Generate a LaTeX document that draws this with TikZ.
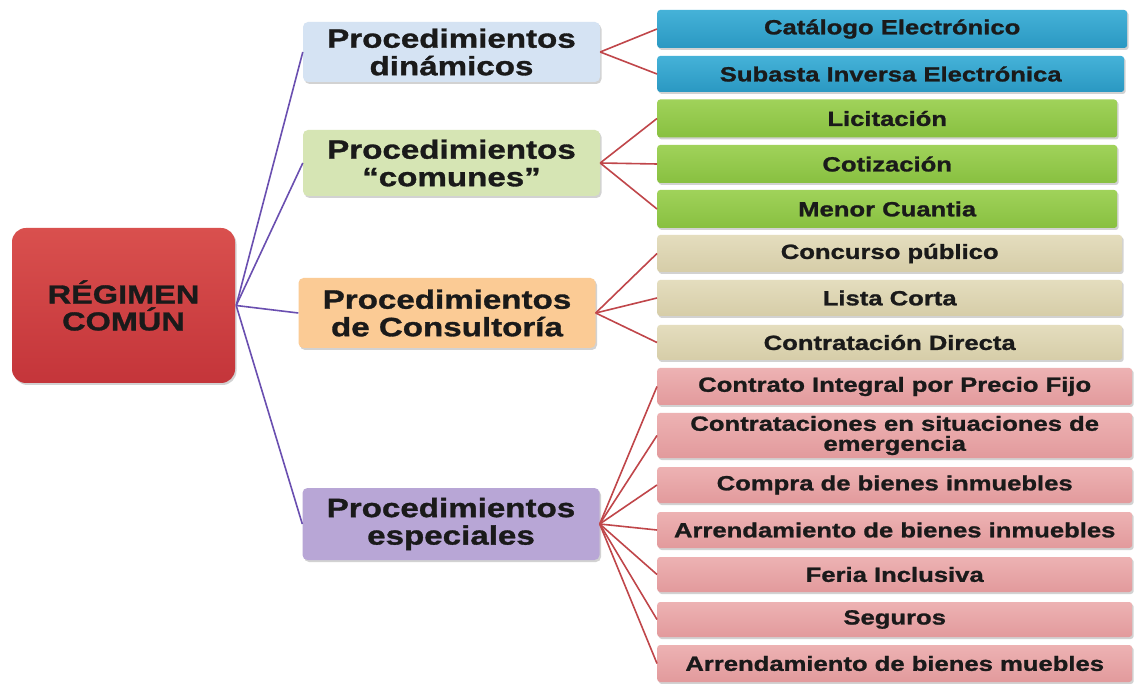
\documentclass[tikz,border=0pt]{standalone}
\usepackage{fontspec}
\setmainfont{Liberation Sans}[FakeStretch=1.25,BoldFeatures={FakeBold=1.2}]
\usetikzlibrary{shadows}
\definecolor{rootc}{HTML}{C4353A}
\definecolor{rootl}{HTML}{D9504E}
\definecolor{dinc}{HTML}{D5E3F3}
\definecolor{comc}{HTML}{D6E5B4}
\definecolor{conc}{HTML}{FBCB95}
\definecolor{espc}{HTML}{B8A6D6}
\definecolor{bluec}{HTML}{2A98C2}
\definecolor{bluel}{HTML}{45B2D8}
\definecolor{greenc}{HTML}{88C040}
\definecolor{greenl}{HTML}{A0D25A}
\definecolor{khakic}{HTML}{D6CDA8}
\definecolor{khakil}{HTML}{E4DDBE}
\definecolor{pinkc}{HTML}{E29A9C}
\definecolor{pinkl}{HTML}{EDB2B3}
\definecolor{purpleline}{HTML}{6A4FB0}
\definecolor{redline}{HTML}{C0464A}
\definecolor{txt}{HTML}{1A1A1A}
\tikzset{
  shad/.style={drop shadow={opacity=0.35,shadow xshift=1.5pt,shadow yshift=-2pt}},
  rootbox/.style={shad,rounded corners=14pt,top color=rootl,bottom color=rootc,
    minimum width=223pt,minimum height=155pt,align=center,inner sep=0pt,text=txt,
    font=\bfseries\fontsize{26}{27}\selectfont},
  midbox/.style={shad,rounded corners=5pt,minimum width=297pt,align=center,inner sep=0pt,text=txt,
    font=\bfseries\fontsize{26.5}{27.5}\selectfont},
  leafbox/.style={shad,rounded corners=3pt,anchor=west,align=center,inner sep=0pt,text=txt,
    font=\bfseries\fontsize{20.5}{20}\selectfont},
  blueleaf/.style={leafbox,top color=bluel,bottom color=bluec},
  greenleaf/.style={leafbox,top color=greenl,bottom color=greenc},
  khakileaf/.style={leafbox,top color=khakil,bottom color=khakic},
  pinkleaf/.style={leafbox,top color=pinkl,bottom color=pinkc},
  pline/.style={purpleline,line width=1.6pt},
  rline/.style={redline,line width=1.6pt},
}
\begin{document}
\begin{tikzpicture}[x=1pt,y=-1pt]
\useasboundingbox (0,0) rectangle (1138,684);
\fill[white] (0,0) rectangle (1138,684);
% root
\node[rootbox] (root) at (123.5,305.5) {RÉGIMEN\\COMÚN};
% mid level
\node[midbox,fill=dinc,minimum height=60pt] (din) at (451.5,52) {Procedimientos\\dinámicos};
\node[midbox,fill=comc,minimum height=66pt] (com) at (451.5,163) {Procedimientos\\“comunes”};
\node[midbox,fill=conc,minimum height=70pt] (cons) at (447,313) {Procedimientos\\de Consultoría};
\node[midbox,fill=espc,minimum height=72pt] (esp) at (451,524) {Procedimientos\\especiales};
% leaves
\node[blueleaf,minimum width=470pt,minimum height=38pt] (cat) at (657,29) {Catálogo Electrónico};
\node[blueleaf,minimum width=467pt,minimum height=36pt] (sub) at (657,74) {Subasta Inversa Electrónica};
\node[greenleaf,minimum width=460pt,minimum height=38pt] (lic) at (657,118.5) {Licitación};
\node[greenleaf,minimum width=460pt,minimum height=38pt] (cot) at (657,164) {Cotización};
\node[greenleaf,minimum width=460pt,minimum height=38pt] (men) at (657,209) {Menor Cuantia};
\node[khakileaf,minimum width=465pt,minimum height=37pt] (conc) at (657,253.5) {Concurso público};
\node[khakileaf,minimum width=465pt,minimum height=36pt] (lis) at (657,298) {Lista Corta};
\node[khakileaf,minimum width=465pt,minimum height=35pt] (dir) at (657,342.5) {Contratación Directa};
\node[pinkleaf,minimum width=475pt,minimum height=37pt] (cip) at (657,386.5) {Contrato Integral por Precio Fijo};
\node[pinkleaf,minimum width=475pt,minimum height=45pt] (eme) at (657,435.5) {Contrataciones en situaciones de\\emergencia};
\node[pinkleaf,minimum width=475pt,minimum height=36pt] (cbi) at (657,485) {Compra de bienes inmuebles};
\node[pinkleaf,minimum width=475pt,minimum height=36pt] (arr) at (657,530) {Arrendamiento de bienes inmuebles};
\node[pinkleaf,minimum width=475pt,minimum height=35pt] (fer) at (657,574.5) {Feria Inclusiva};
\node[pinkleaf,minimum width=475pt,minimum height=35pt] (seg) at (657,619.5) {Seguros};
\node[pinkleaf,minimum width=475pt,minimum height=37pt] (mue) at (657,663.5) {Arrendamiento de bienes muebles};
% connectors root -> mid
\coordinate (rp) at ([xshift=1pt]root.east);
\foreach \n in {din,com,cons,esp} \draw[pline] (rp) -- (\n.west);
% mid -> leaves
\foreach \n in {cat,sub} \draw[rline] (din.east) -- (\n.west);
\foreach \n in {lic,cot,men} \draw[rline] (com.east) -- (\n.west);
\foreach \n in {conc,lis,dir} \draw[rline] (cons.east) -- (\n.west);
\foreach \n in {cip,eme,cbi,arr,fer,seg,mue} \draw[rline] (esp.east) -- (\n.west);
\end{tikzpicture}
\end{document}
